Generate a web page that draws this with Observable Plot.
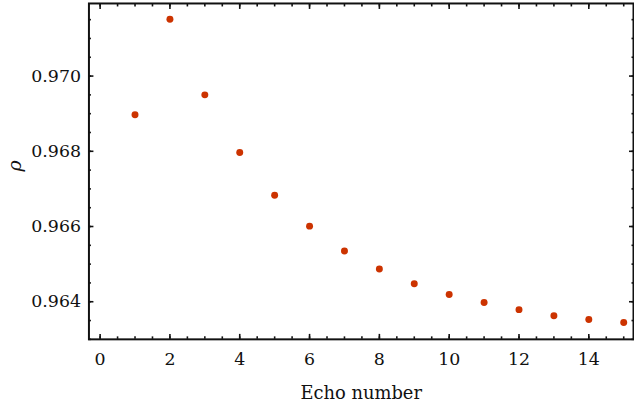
<!DOCTYPE html>
<html>
<head>
<meta charset="utf-8">
<script src="https://cdn.jsdelivr.net/npm/d3@7"></script>
<script src="https://cdn.jsdelivr.net/npm/@observablehq/plot@0.6"></script>
<style>
  html, body { margin: 0; padding: 0; background: #fff; overflow: hidden; width: 634px; height: 407px; }
  svg { display: block; }
</style>
</head>
<body>
<div id="chart"></div>
<script>
const echo = [1, 2, 3, 4, 5, 6, 7, 8, 9, 10, 11, 12, 13, 14, 15];
const rho = [0.96897, 0.97151, 0.96950, 0.96797, 0.96683, 0.96601, 0.96535, 0.96487,
             0.96448, 0.96419, 0.96398, 0.96379, 0.96363, 0.96353, 0.96345];
const xMajor = [0, 2, 4, 6, 8, 10, 12, 14];
const xMinor = d3.range(0, 15.01, 0.5);
const yMajor = [0.964, 0.966, 0.968, 0.970];
const yMinor = d3.range(0.9630, 0.97195, 0.0005);
const xLabel = "Echo number";
const yLabel = "ρ";

const data = echo.map((e, i) => ({echo: e, rho: rho[i]}));
const font = "DejaVu Serif";
const blank = () => "";
const tk = {strokeWidth: 1.6, stroke: "#111", label: null, tickFormat: blank};

const chart = Plot.plot({
  width: 638,
  height: 407,
  marginLeft: 89,
  marginRight: 1,
  marginTop: 3,
  marginBottom: 66,
  style: {fontFamily: font, fontSize: "17.5px", color: "#111", background: "white"},
  x: {domain: [-0.32, 15.28]},
  y: {domain: [0.963, 0.97193]},
  marks: [
    Plot.axisY({...tk, anchor: "left", ticks: yMajor, tickSize: 5, dx: 5}),
    Plot.axisY({...tk, anchor: "left", ticks: yMinor, tickSize: 2.5, dx: 2.5}),
    Plot.axisY({...tk, anchor: "right", ticks: yMajor, tickSize: 5, dx: -5}),
    Plot.axisY({...tk, anchor: "right", ticks: yMinor, tickSize: 2.5, dx: -2.5}),
    Plot.axisX({...tk, anchor: "bottom", ticks: xMajor, tickSize: 5, dy: -5}),
    Plot.axisX({...tk, anchor: "bottom", ticks: xMinor, tickSize: 2.5, dy: -2.5}),
    Plot.axisX({...tk, anchor: "top", ticks: xMajor, tickSize: 5, dy: 5}),
    Plot.axisX({...tk, anchor: "top", ticks: xMinor, tickSize: 2.5, dy: 2.5}),
    Plot.axisY({anchor: "left", ticks: yMajor, tickSize: 0, tickPadding: 8, tickFormat: d3.format(".3f"), label: null, fill: "#111", fontFamily: font}),
    Plot.axisX({anchor: "bottom", ticks: xMajor, tickSize: 0, tickPadding: 13, tickFormat: d3.format("d"), label: null, fill: "#111", fontFamily: font}),
    Plot.text([xLabel], {frameAnchor: "bottom", dy: 54, lineAnchor: "middle", fontSize: 18, letterSpacing: 1.2, fill: "#111", fontFamily: font}),
    Plot.text([yLabel], {frameAnchor: "left", dx: -74, rotate: -90, fontSize: 19, fontStyle: "italic", fill: "#111", fontFamily: font}),
    Plot.frame({stroke: "#111", strokeWidth: 2}),
    Plot.dot(data, {x: "echo", y: "rho", r: 3.5, fill: "#cc3300", stroke: null})
  ]
});
document.getElementById("chart").appendChild(chart);
</script>
</body>
</html>
